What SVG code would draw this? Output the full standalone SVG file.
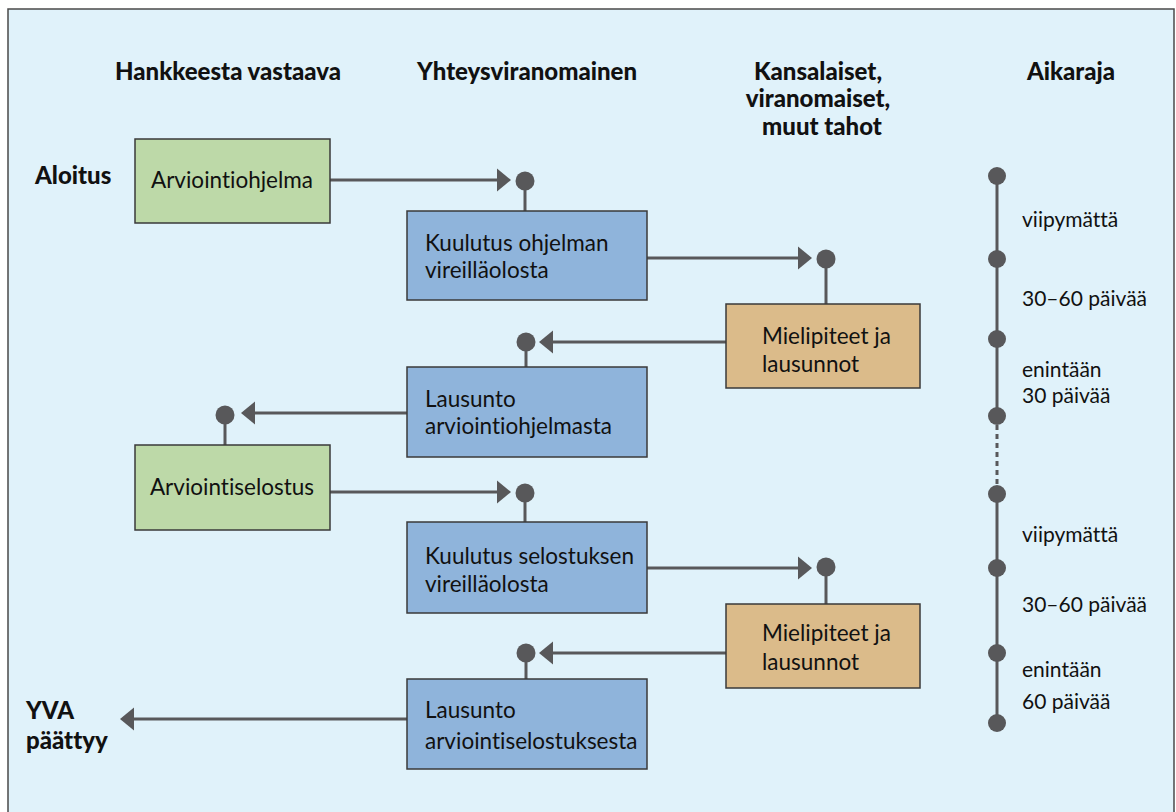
<svg xmlns="http://www.w3.org/2000/svg" width="1176" height="812" viewBox="0 0 1176 812">
<defs>
<style>
text{font-variant-ligatures:none;font-family:Lato,"Liberation Sans",sans-serif;fill:#111}
.bg{fill:#e0f2fa;stroke:#4a4a4a;stroke-width:1.5}
.box{stroke:#3a3a3a;stroke-width:1.5}
.g{fill:#bdd9a8}.b{fill:#8fb4db}.t{fill:#dbbb8a}
.txt{font-size:22.5px}
.tl{font-size:21px}
.hd{font-size:24px;font-weight:900}
.ln{stroke:#58585a;stroke-width:3;fill:none}
.dot{fill:#58585a}
.ah{fill:#58585a}
</style>
</defs>
<rect class="bg" x="8" y="9" width="1166" height="820"/>

<g id="headers">
<text class="hd" x="228" y="80" text-anchor="middle">Hankkeesta vastaava</text>
<text class="hd" x="527" y="80" text-anchor="middle">Yhteysviranomainen</text>
<text class="hd" x="818" y="80" text-anchor="middle">Kansalaiset,</text>
<text class="hd" x="818" y="107" text-anchor="middle">viranomaiset,</text>
<text class="hd" x="822" y="135" text-anchor="middle">muut tahot</text>
<text class="hd" x="1071" y="80" text-anchor="middle">Aikaraja</text>
<text class="hd" x="35" y="184">Aloitus</text>
<text class="hd" x="26" y="719">YVA</text>
<text class="hd" x="26" y="749">päättyy</text>
</g>

<g id="connectors">
<path class="ln" d="M330 180H500M525 180V211"/>
<polygon class="ah" points="511,180 497,168.5 497,191.5"/>
<circle class="dot" cx="525" cy="181" r="9.5"/>

<path class="ln" d="M647 258H800M826 259V304"/>
<polygon class="ah" points="812,258 798,246.5 798,269.5"/>
<circle class="dot" cx="826" cy="259" r="9.5"/>

<path class="ln" d="M726 342H550M526 342V367"/>
<polygon class="ah" points="539,342 553,330.5 553,353.5"/>
<circle class="dot" cx="526" cy="342" r="9.5"/>

<path class="ln" d="M407 413H252M225 415V445"/>
<polygon class="ah" points="241,413 255,401.5 255,424.5"/>
<circle class="dot" cx="225" cy="415" r="9.5"/>

<path class="ln" d="M330 492H500M525 493V522"/>
<polygon class="ah" points="511,492 497,480.5 497,503.5"/>
<circle class="dot" cx="525" cy="493" r="9.5"/>

<path class="ln" d="M647 568H800M826 567V604"/>
<polygon class="ah" points="812,568 798,556.5 798,579.5"/>
<circle class="dot" cx="826" cy="567" r="9.5"/>

<path class="ln" d="M726 653H550M526 653V679"/>
<polygon class="ah" points="539,653 553,641.5 553,664.5"/>
<circle class="dot" cx="526" cy="653" r="9.5"/>

<path class="ln" d="M407 719H130"/>
<polygon class="ah" points="120,719 134,707.5 134,730.5"/>
</g>

<g id="timeline">
<path class="ln" d="M997 176V416"/>
<path class="ln" d="M997 416V494" stroke-dasharray="5,4"/>
<path class="ln" d="M997 494V723"/>
<circle class="dot" cx="997" cy="176" r="9"/>
<circle class="dot" cx="997" cy="259" r="9"/>
<circle class="dot" cx="997" cy="339" r="9"/>
<circle class="dot" cx="997" cy="416" r="9"/>
<circle class="dot" cx="997" cy="494" r="9"/>
<circle class="dot" cx="997" cy="568" r="9"/>
<circle class="dot" cx="997" cy="653" r="9"/>
<circle class="dot" cx="997" cy="723" r="9"/>
<text class="tl" x="1022" y="227">viipymättä</text>
<text class="tl" x="1022" y="306">30–60 päivää</text>
<text class="tl" x="1022" y="377">enintään</text>
<text class="tl" x="1022" y="403">30 päivää</text>
<text class="tl" x="1022" y="542">viipymättä</text>
<text class="tl" x="1022" y="612">30–60 päivää</text>
<text class="tl" x="1022" y="677">enintään</text>
<text class="tl" x="1022" y="709">60 päivää</text>
</g>

<g id="n1"><rect class="box g" x="135" y="139" width="195" height="84"/>
<text class="txt" x="232" y="188" text-anchor="middle">Arviointiohjelma</text></g>
<g id="n2"><rect class="box b" x="407" y="211" width="240" height="89"/>
<text class="txt" x="425" y="251">Kuulutus ohjelman</text>
<text class="txt" x="425" y="278">vireilläolosta</text></g>
<g id="n3"><rect class="box t" x="726" y="304" width="194" height="84"/>
<text class="txt" x="762" y="344">Mielipiteet ja</text>
<text class="txt" x="762" y="372">lausunnot</text></g>
<g id="n4"><rect class="box b" x="407" y="367" width="240" height="90"/>
<text class="txt" x="425" y="407">Lausunto</text>
<text class="txt" x="425" y="434">arviointiohjelmasta</text></g>
<g id="n5"><rect class="box g" x="135" y="445" width="195" height="85"/>
<text class="txt" x="232" y="495" text-anchor="middle">Arviointiselostus</text></g>
<g id="n6"><rect class="box b" x="407" y="522" width="240" height="91"/>
<text class="txt" x="425" y="564">Kuulutus selostuksen</text>
<text class="txt" x="425" y="592">vireilläolosta</text></g>
<g id="n7"><rect class="box t" x="726" y="604" width="194" height="84"/>
<text class="txt" x="762" y="641">Mielipiteet ja</text>
<text class="txt" x="762" y="670">lausunnot</text></g>
<g id="n8"><rect class="box b" x="407" y="679" width="240" height="90"/>
<text class="txt" x="425" y="718">Lausunto</text>
<text class="txt" x="425" y="749">arviointiselostuksesta</text></g>
</svg>
